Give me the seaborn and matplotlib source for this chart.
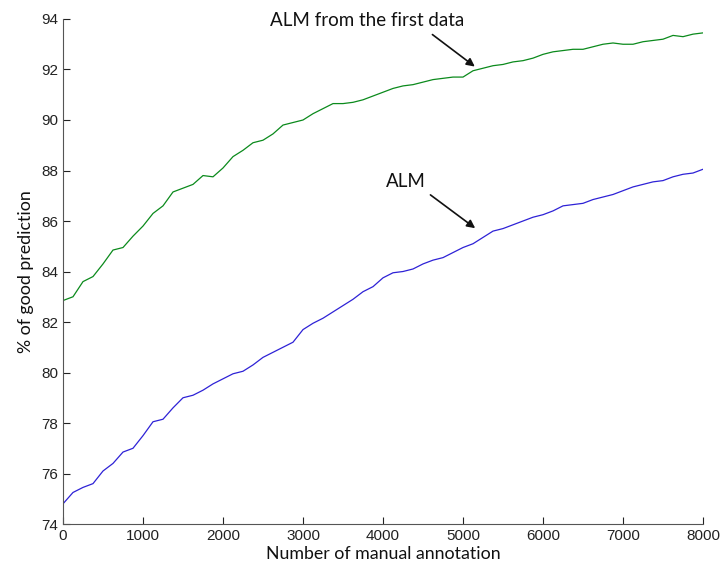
import numpy as np
import pandas as pd
import matplotlib
matplotlib.use("Agg")
import matplotlib.pyplot as plt
import seaborn as sns

annotations = [0, 125, 250, 375, 500, 625, 750, 875, 1000, 1125, 1250, 1375, 1500,
               1625, 1750, 1875, 2000, 2125, 2250, 2375, 2500, 2625, 2750, 2875, 3000,
               3125, 3250, 3375, 3500, 3625, 3750, 3875, 4000, 4125, 4250, 4375, 4500,
               4625, 4750, 4875, 5000, 5125, 5250, 5375, 5500, 5625, 5750, 5875, 6000,
               6125, 6250, 6375, 6500, 6625, 6750, 6875, 7000, 7125, 7250, 7375, 7500,
               7625, 7750, 7875, 8000]

alm_first = [82.85, 83.0, 83.6, 83.8, 84.3, 84.85, 84.95, 85.4, 85.8, 86.3, 86.6, 87.15,
             87.3, 87.45, 87.8, 87.75, 88.1, 88.55, 88.8, 89.1, 89.2, 89.45, 89.8, 89.9,
             90.0, 90.25, 90.45, 90.65, 90.65, 90.7, 90.8, 90.95, 91.1, 91.25, 91.35,
             91.4, 91.5, 91.6, 91.65, 91.7, 91.7, 91.95, 92.05, 92.15, 92.2, 92.3, 92.35,
             92.45, 92.6, 92.7, 92.75, 92.8, 92.8, 92.9, 93.0, 93.05, 93.0, 93.0, 93.1,
             93.15, 93.2, 93.35, 93.3, 93.4, 93.45]

alm = [74.8, 75.25, 75.45, 75.6, 76.1, 76.4, 76.85, 77.0, 77.5, 78.05, 78.15, 78.6,
       79.0, 79.1, 79.3, 79.55, 79.75, 79.95, 80.05, 80.3, 80.6, 80.8, 81.0, 81.2,
       81.7, 81.95, 82.15, 82.4, 82.65, 82.9, 83.2, 83.4, 83.75, 83.95, 84.0, 84.1,
       84.3, 84.45, 84.55, 84.75, 84.95, 85.1, 85.35, 85.6, 85.7, 85.85, 86.0, 86.15,
       86.25, 86.4, 86.6, 86.65, 86.7, 86.85, 86.95, 87.05, 87.2, 87.35, 87.45, 87.55,
       87.6, 87.75, 87.85, 87.9, 88.05]

x_ticks = [0, 1000, 2000, 3000, 4000, 5000, 6000, 7000, 8000]
y_ticks = [74, 76, 78, 80, 82, 84, 86, 88, 90, 92, 94]

sns.set_style("ticks")
plt.rcParams['font.family'] = ['Liberation Sans', 'DejaVu Sans']

fig = plt.figure(figsize=(7.2, 5.67), dpi=100)
ax = fig.add_axes([0.0875, 0.0758, 0.8889, 0.8907])

df = pd.DataFrame({"n": annotations + annotations,
                   "pct": alm_first + alm,
                   "series": ["ALM from the first data"] * len(annotations) + ["ALM"] * len(annotations)})

sns.lineplot(data=df, x="n", y="pct", hue="series",
             palette={"ALM from the first data": "#0b8a1c", "ALM": "#2e22d6"},
             linewidth=0.9, legend=False, ax=ax)

ax.set_xlim(0, 8000)
ax.set_ylim(74, 94)
ax.set_xticks(x_ticks)
ax.set_yticks(y_ticks)
ax.tick_params(direction="in", length=5, width=0.8, labelsize=11, colors="#222222")
for s in ["top", "right"]:
    ax.spines[s].set_visible(False)
for s in ["left", "bottom"]:
    ax.spines[s].set_color("#555555")
    ax.spines[s].set_linewidth(0.8)

lab_font = dict(family=["Lato", "DejaVu Sans"], fontsize=12.8, color="#111111")
ax.set_xlabel("Number of manual annotation", labelpad=2, **lab_font)
ax.set_ylabel("% of good prediction", labelpad=5, **lab_font)

ann_font = dict(family=["Lato", "DejaVu Sans"], fontsize=13.5, color="#111111")
ax.text(3800, 93.95, "ALM from the first data", ha="center", va="center", **ann_font)
ax.annotate("", xy=(5175, 92.05), xytext=(4590, 93.45),
            arrowprops=dict(arrowstyle="-|>", color="#111111", lw=1.2, mutation_scale=12))
ax.text(4290, 87.55, "ALM", ha="center", va="center", **ann_font)
ax.annotate("", xy=(5180, 85.65), xytext=(4565, 87.1),
            arrowprops=dict(arrowstyle="-|>", color="#111111", lw=1.2, mutation_scale=12))

fig.savefig("out.png", dpi=100)
